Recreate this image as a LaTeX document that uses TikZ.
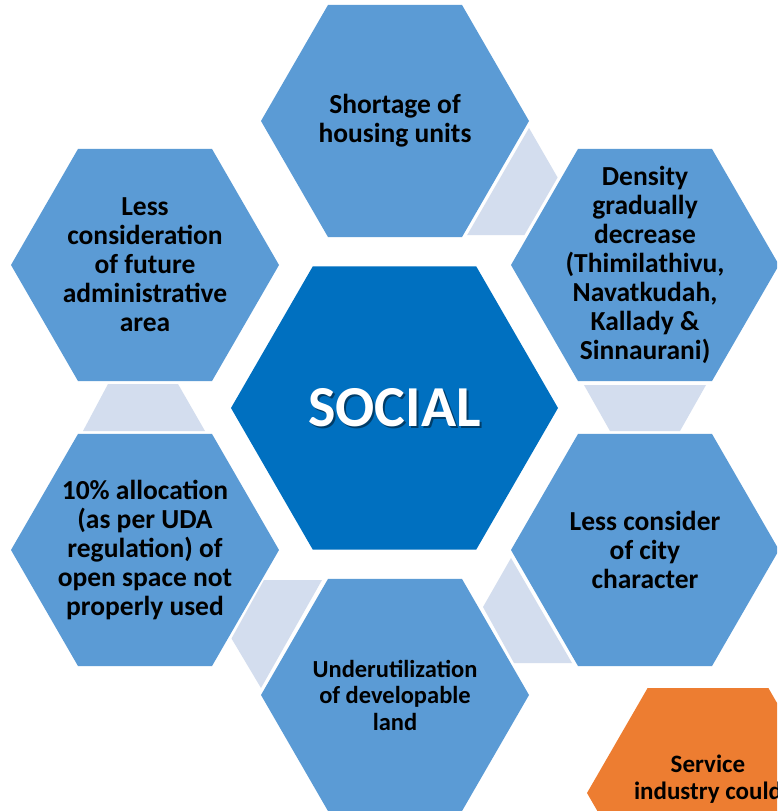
\documentclass[tikz,border=0pt]{standalone}
\usepackage{fontspec}
\setmainfont{Carlito}
\usetikzlibrary{shapes.geometric}
\definecolor{hexblue}{HTML}{5B9BD5}
\definecolor{coreblue}{HTML}{0070C0}
\definecolor{linkblue}{HTML}{D3DDEE}
\definecolor{hexorange}{HTML}{ED7D31}

\begin{document}
\begin{tikzpicture}[x=1pt, y=-1pt, hexa/.style={regular polygon, regular polygon sides=6, fill=hexblue, inner sep=0pt, minimum size=268pt}, rotulo/.style={align=center, font=\fontsize{27.5}{29}\selectfont\bfseries}, elo/.style={fill=linkblue}]
\useasboundingbox (0,0) rectangle (777,811);
\clip (0,0) rectangle (777,811);
\fill[white] (0,0) rectangle (777,811);
% light links between the outer hexagons
\fill[elo] (529,128) -- (557.6,177.5) -- (524.4,235) -- (467.2,235) -- cycle;
\fill[elo] (584,385) -- (706,385) -- (680,431) -- (610,431) -- cycle;
\fill[elo] (511,558) -- (483,607) -- (514,663) -- (572,663) -- cycle;
\fill[elo] (264,580) -- (322,580) -- (261,688) -- (231.5,638.5) -- cycle;
\fill[elo] (108,384) -- (178,384) -- (205,431) -- (83,431) -- cycle;
% hexagons
\node[hexa, fill=coreblue, minimum size=327pt] (soc) at (394.5,408) {};
\node[hexa] (top) at (395,121) {};
\node[hexa] (dens) at (645,265) {};
\node[hexa] (city) at (645,550) {};
\node[hexa] (land) at (395,695) {};
\node[hexa] (open) at (145,550) {};
\node[hexa] (admin) at (145,265) {};
\node[hexa, fill=hexorange, minimum size=242pt] (serv) at (708,793) {};
% texts
\node[font=\fontsize{58}{62}\selectfont\bfseries, text=black, opacity=0.45] (socsh) at ([shift={(2,2)}]soc.center) {SOCIAL};
\node[font=\fontsize{58}{62}\selectfont\bfseries, text=white] (soct) at (soc) {SOCIAL};
\node[rotulo] (topt) at (top) {Shortage of\\housing units};
\node[rotulo] (denst) at (dens) {Density\\gradually\\decrease\\(Thimilathivu,\\Navatkudah,\\Kallady \&\\Sinnaurani)};
\node[rotulo] (cityt) at (city) {Less consider\\of city\\character};
\node[rotulo, font=\fontsize{24.5}{26.5}\selectfont\bfseries] (landt) at (land) {Underutilization\\of developable\\land};
\node[rotulo] (opent) at (open) {10\% allocation\\(as per UDA\\regulation) of\\open space not\\properly used};
\node[rotulo] (admint) at (admin) {Less\\consideration\\of future\\administrative\\area};
\node[rotulo, font=\fontsize{25}{27}\selectfont\bfseries] (servt) at (708,779.5) {Service\\industry could};
\end{tikzpicture}
\end{document}
